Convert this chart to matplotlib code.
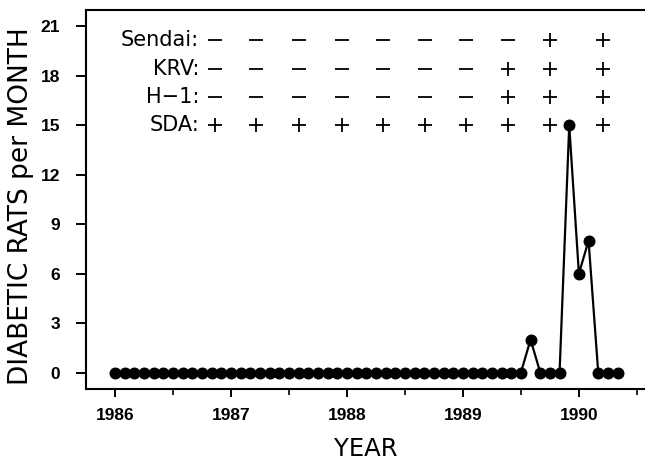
import matplotlib
matplotlib.use("Agg")
import matplotlib.pyplot as plt
from matplotlib.ticker import MultipleLocator, FixedLocator

# ---- data ----
start_year = 1986
diabetic_per_month = [0, 0, 0, 0, 0, 0, 0, 0, 0, 0, 0, 0,   # 1986
                      0, 0, 0, 0, 0, 0, 0, 0, 0, 0, 0, 0,   # 1987
                      0, 0, 0, 0, 0, 0, 0, 0, 0, 0, 0, 0,   # 1988
                      0, 0, 0, 0, 0, 0, 0, 2, 0, 0, 0, 15,  # 1989
                      6, 8, 0, 0, 0]                        # 1990
month_index = list(range(len(diabetic_per_month)))

test_times = [1986.86, 1987.22, 1987.59, 1987.96, 1988.31,
              1988.67, 1989.03, 1989.39, 1989.75, 1990.21]
row_names = ["Sendai:", "KRV:", "H\u22121:", "SDA:"]
row_levels = [20.2, 18.4, 16.7, 15.0]
sendai = ["-", "-", "-", "-", "-", "-", "-", "-", "+", "+"]
krv    = ["-", "-", "-", "-", "-", "-", "-", "+", "+", "+"]
h1     = ["-", "-", "-", "-", "-", "-", "-", "+", "+", "+"]
sda    = ["+", "+", "+", "+", "+", "+", "+", "+", "+", "+"]
serology = [sendai, krv, h1, sda]

yticks = [0, 3, 6, 9, 12, 15, 18, 21]
xticks = [1986, 1987, 1988, 1989, 1990]

# ---- figure ----
W, H = 645, 463
fig = plt.figure(figsize=(W / 100, H / 100), dpi=100)
ax = fig.add_axes([86 / W, 1 - 389 / H, (W - 86) / W, (389 - 10) / H])

x = [start_year + m / 12 for m in month_index]
ax.plot(x, diabetic_per_month, color="black", lw=1.6, marker="o",
        markersize=7.6, markerfacecolor="black", markeredgecolor="black",
        clip_on=False, zorder=3)

# serology table
for name, level, row in zip(row_names, row_levels, serology):
    ax.text(1986.725, level, name, ha="right", va="center",
            fontsize=15, family="DejaVu Sans")
    for t, s in zip(test_times, row):
        mk = "+" if s == "+" else "_"
        ax.plot([t], [level], linestyle="none", marker=mk, markersize=10,
                markeredgewidth=1.3, color="black")

ax.set_xlim(1985.75, 1990.57)
ax.set_ylim(-1, 22)

ax.xaxis.set_major_locator(FixedLocator(xticks))
ax.set_xticklabels([str(v) for v in xticks])
ax.xaxis.set_minor_locator(MultipleLocator(0.5))
ax.yaxis.set_major_locator(FixedLocator(yticks))
ax.set_yticklabels([str(v) for v in yticks])

for lab in ax.get_xticklabels() + ax.get_yticklabels():
    lab.set_family("Liberation Sans")
    lab.set_fontsize(12.5)
    lab.set_fontweight("bold")

ax.tick_params(axis="x", which="major", direction="out", length=6, width=1.4, pad=7.5)
ax.tick_params(axis="x", which="minor", direction="out", length=4, width=1.2)
ax.tick_params(axis="y", which="major", direction="out", length=7, width=1.4, pad=11.5)
ax.tick_params(axis="y", which="minor", left=False)

for side in ["left", "bottom", "top"]:
    ax.spines[side].set_linewidth(1.5)
ax.spines["right"].set_visible(False)

ax.set_ylabel("DIABETIC RATS per MONTH", fontsize=19, family="DejaVu Sans",
              rotation=90, rotation_mode="default", va="center", ha="center")
ax.yaxis.set_label_coords(-65 / (W - 86), (389 - 206) / (389 - 10))
ax.set_xlabel("YEAR", fontsize=17.5, family="DejaVu Sans", va="center", ha="center")
ax.xaxis.set_label_coords(0.5, (389 - 449) / (389 - 10))

fig.savefig("out.png", dpi=100)
